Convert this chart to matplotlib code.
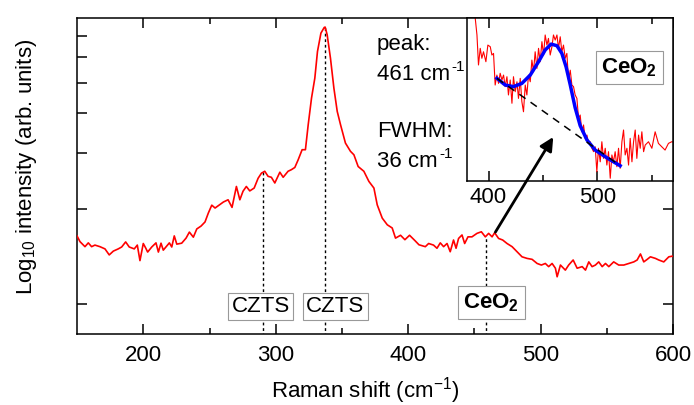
import matplotlib
matplotlib.use('Agg')
import matplotlib.pyplot as plt
import numpy as np

plt.rcParams['font.family'] = 'Liberation Sans'
plt.rcParams['mathtext.fontset'] = 'custom'
plt.rcParams['mathtext.rm'] = 'Liberation Sans'
plt.rcParams['mathtext.it'] = 'Liberation Sans:italic'
plt.rcParams['mathtext.bf'] = 'Liberation Sans:bold'

# main spectrum: Raman shift (cm-1) and log10 of the intensity
shift = [150.0, 152.2, 156.0, 158.5, 161.0, 163.5, 167.3, 171.1, 174.3, 177.4,
         181.1, 183.7, 186.7, 189.4, 193.2, 195.5, 197.5, 200.0, 201.8, 203.3,
         206.4, 209.6, 211.4, 213.4, 215.1, 217.7, 219.7, 221.5, 223.4, 225.3,
         229.0, 232.3, 234.8, 237.8, 240.4, 243.6, 246.6, 249.1, 251.7, 254.2,
         257.2, 260.5, 264.0, 267.0, 270.3, 272.9, 275.3, 277.8, 280.4, 283.7,
         286.7, 289.2, 291.7, 294.2, 296.7, 299.3, 303.1, 305.6, 309.3, 311.8,
         314.4, 316.9, 319.9, 322.4, 324.5, 327.0, 329.5, 331.5, 334.1, 336.6,
         337.3, 338.8, 341.3, 343.9, 346.4, 348.9, 352.6, 356.4, 359.0, 362.2,
         366.5, 370.3, 374.1, 376.6, 380.4, 384.2, 387.9, 390.4, 394.2, 397.5,
         401.0, 405.1, 408.1, 412.9, 415.4, 419.1, 421.7, 424.2, 426.7, 429.3,
         431.7, 434.2, 436.1, 438.0, 440.6, 442.6, 445.1, 448.1, 451.9, 455.2,
         458.2, 460.7, 463.3, 465.2, 468.2, 471.3, 474.6, 478.4, 482.1, 485.9,
         489.7, 493.5, 497.3, 500.5, 503.5, 506.0, 508.6, 511.1, 512.4, 514.9,
         518.6, 521.1, 524.5, 527.5, 531.3, 533.8, 536.3, 538.8, 541.3, 543.8,
         546.4, 548.9, 551.4, 555.1, 558.9, 562.7, 566.5, 570.3, 572.8, 575.3,
         577.8, 580.4, 582.8, 586.6, 589.1, 592.9, 596.7, 599.3, 600.0]
log_int = [3.215, 3.197, 3.181, 3.193, 3.181, 3.186, 3.181, 3.174, 3.155, 3.167,
           3.174, 3.180, 3.196, 3.180, 3.174, 3.186, 3.137, 3.191, 3.177, 3.164,
           3.180, 3.193, 3.164, 3.192, 3.170, 3.183, 3.193, 3.180, 3.215, 3.189,
           3.192, 3.208, 3.227, 3.211, 3.237, 3.246, 3.259, 3.287, 3.312, 3.303,
           3.312, 3.322, 3.329, 3.305, 3.371, 3.329, 3.356, 3.371, 3.357, 3.366,
           3.397, 3.413, 3.419, 3.403, 3.400, 3.382, 3.416, 3.400, 3.419, 3.424,
           3.431, 3.455, 3.487, 3.487, 3.566, 3.650, 3.713, 3.797, 3.855, 3.873,
           3.874, 3.850, 3.776, 3.681, 3.608, 3.566, 3.508, 3.482, 3.471, 3.434,
           3.419, 3.387, 3.366, 3.313, 3.271, 3.250, 3.240, 3.208, 3.217, 3.203,
           3.217, 3.200, 3.187, 3.181, 3.191, 3.186, 3.176, 3.193, 3.181, 3.191,
           3.165, 3.202, 3.176, 3.207, 3.218, 3.191, 3.212, 3.212, 3.223, 3.228,
           3.212, 3.223, 3.212, 3.225, 3.207, 3.202, 3.191, 3.181, 3.165, 3.149,
           3.144, 3.141, 3.128, 3.123, 3.128, 3.118, 3.128, 3.113, 3.086, 3.123,
           3.107, 3.123, 3.139, 3.113, 3.118, 3.107, 3.133, 3.118, 3.123, 3.133,
           3.118, 3.128, 3.118, 3.133, 3.123, 3.123, 3.128, 3.133, 3.139, 3.158,
           3.133, 3.141, 3.149, 3.144, 3.139, 3.133, 3.149, 3.151, 3.150]

# inset: CeO2 region, linear intensity (arb.)
inset_shift = [380.0, 385.0, 387.8, 389.4, 390.8, 392.4, 393.9, 395.4, 397.6, 399.4,
               401.6, 403.1, 404.6, 406.1, 407.7, 409.2, 410.7, 412.3, 413.8, 415.3,
               416.9, 418.3, 419.9, 421.5, 422.9, 424.5, 426.1, 427.5, 429.1, 430.6,
               432.1, 433.7, 435.2, 436.7, 438.3, 439.8, 441.3, 442.8, 444.4, 445.9,
               447.4, 449.0, 450.5, 452.0, 453.6, 455.0, 456.6, 458.2, 459.6, 461.2,
               462.8, 464.2, 465.8, 467.3, 468.8, 470.4, 471.9, 473.4, 475.0, 476.5,
               478.0, 479.5, 481.1, 482.6, 484.1, 485.7, 487.2, 488.7, 490.3, 491.7,
               493.3, 494.9, 496.4, 497.9, 499.4, 500.9, 502.5, 504.0, 505.5, 507.1,
               508.6, 510.1, 511.7, 513.2, 514.7, 516.2, 517.8, 519.3, 520.8, 522.4,
               523.9, 525.4, 527.0, 528.5, 530.0, 531.6, 533.1, 534.6, 536.1, 537.7,
               539.2, 540.7, 542.3, 543.8, 546.8, 549.9, 552.9, 555.9, 559.0, 562.0,
               565.1, 568.1, 569.0]
inset_counts = [120.0, 108.0, 100.0, 89.6, 71.2, 81.4, 75.3, 79.3, 73.2, 83.4,
                82.4, 77.3, 78.3, 58.9, 65.0, 59.9, 66.1, 62.0, 65.0, 57.9,
                64.0, 52.8, 62.0, 47.7, 64.0, 54.8, 60.9, 50.7, 63.0, 48.7,
                42.5, 58.9, 52.8, 65.0, 60.9, 74.2, 67.1, 79.3, 69.1, 81.4,
                73.2, 85.5, 77.3, 89.6, 83.4, 87.5, 77.3, 82.4, 89.6, 86.5,
                89.6, 81.4, 88.5, 79.3, 83.4, 75.3, 78.3, 62.0, 68.0, 58.9,
                57.9, 52.8, 50.7, 38.5, 40.5, 30.2, 34.4, 26.2, 28.2, 23.1,
                24.1, 20.1, 18.0, 21.0, 5.7, 20.1, 11.8, 24.1, 13.9, 20.1,
                9.8, 18.0, 1.7, 16.0, 11.8, 18.0, 8.8, 20.1, 7.8, 24.1,
                31.3, 16.0, 20.1, 9.8, 26.2, 11.8, 24.1, 31.3, 13.9, 28.2,
                20.1, 30.2, 18.0, 22.1, 24.1, 20.1, 30.2, 23.1, 21.0, 19.0,
                23.1, 24.1, 24.0]

fit_shift = [407.7, 415.3, 422.9, 430.6, 438.3, 445.9, 452.0, 457.5, 462.8, 467.3,
             471.2, 475.0, 479.5, 484.1, 490.3, 497.9, 507.1, 514.7, 520.8]
fit_counts = [63.0, 58.9, 57.9, 59.9, 65.0, 73.2, 80.4, 84.0, 83.0, 78.3,
              70.0, 59.0, 45.0, 34.0, 25.2, 19.0, 14.9, 11.8, 9.4]
base_shift = [407.7, 520.8]
base_counts = [63.0, 9.4]

# peak markers: position, top of the dotted line, label, label position
mark_shift = [290.7, 337.2, 458.4]
mark_top = [3.416, 3.874, 3.207]
label_text = ['CZTS', 'CZTS', r'$\mathbf{CeO_2}$']
label_x = [288.6, 344.9, 462.6]
label_y = [2.992, 2.992, 3.005]
label_pad = [0.15, 0.15, 0.25]

tick_counts = [1, 2, 3, 4, 5, 6, 7]

fig = plt.figure(figsize=(6.94, 4.05), dpi=100)
ax = fig.add_axes([0.111, 0.175, 0.859, 0.780])
ax.plot(shift, log_int, color='red', lw=1.2, zorder=3)

for x, top in zip(mark_shift, mark_top):
    ax.plot([x, x], [2.9, top], color='black', lw=1.0, dashes=(2, 2), zorder=2)
for t, x, y, p in zip(label_text, label_x, label_y, label_pad):
    ax.text(x, y, t, ha='center', va='center', fontsize=16, zorder=4,
            bbox=dict(boxstyle='square,pad=%g' % p, fc='white', ec='#999999', lw=0.8))

ax.set_xlim(150, 600)
ax.set_ylim(2.905, 3.902)
ax.set_xticks([200, 300, 400, 500, 600])
ax.set_xticks([250, 350, 450, 550], minor=True)
ax.set_yticks(3 + np.log10(tick_counts))
ax.set_yticklabels([])
ax.tick_params(direction='in', top=True, right=True, length=7, width=1.1,
               labelsize=16, pad=8)
ax.tick_params(which='minor', direction='in', top=True, length=4, width=1.1)
for s in ax.spines.values():
    s.set_linewidth(1.1)
ax.set_xlabel('Raman shift (cm$^{-1}$)', fontsize=16, va='baseline')
ax.set_ylabel('Log$_{10}$ intensity (arb. units)', fontsize=16)
ax.xaxis.set_label_coords(0.484, -0.2)
ax.yaxis.set_label_coords(-0.064, 0.53)

# fit results, with a small "-1" superscript after each "cm"
fig.text(377 / 694, 1 - 50 / 405, 'peak:', fontsize=16, va='baseline')
t1 = fig.text(377 / 694, 1 - 80 / 405, '461 cm', fontsize=16, va='baseline')
fig.text(377 / 694, 1 - 137 / 405, 'FWHM:', fontsize=16, va='baseline')
t2 = fig.text(377 / 694, 1 - 167 / 405, '36 cm', fontsize=16, va='baseline')
for t in (t1, t2):
    ax.annotate('-1', xy=(1, 1), xycoords=t, xytext=(1, 3),
                textcoords='offset points', fontsize=11, va='top', ha='left')

axin = fig.add_axes([0.6725, 0.553, 0.2968, 0.4025])
axin.plot(inset_shift, inset_counts, color='red', lw=0.8)
axin.plot(fit_shift, fit_counts, color='blue', lw=2.5)
axin.plot(base_shift, base_counts, color='black', lw=1.1, dashes=(5, 4))
axin.set_xlim(380, 569)
axin.set_ylim(0, 100)
axin.set_yticks([])
axin.set_xticks([400, 500])
axin.set_xticks([450, 550], minor=True)
axin.tick_params(direction='in', top=True, length=7, width=1.1, labelsize=16, pad=4)
axin.tick_params(which='minor', direction='in', top=True, length=4, width=1.1)
for s in axin.spines.values():
    s.set_linewidth(1.1)
axin.text(0.789, 0.696, r'$\mathbf{CeO_2}$', transform=axin.transAxes,
          ha='center', va='center', fontsize=16,
          bbox=dict(boxstyle='square,pad=0.25', fc='white', ec='#999999', lw=0.8))

axin.annotate('', xy=(459.4, 27.0), xycoords='data',
              xytext=(465.8, 3.227), textcoords=ax.transData,
              arrowprops=dict(arrowstyle='-|>', color='black', lw=2,
                              mutation_scale=20, shrinkA=0, shrinkB=0),
              annotation_clip=False)

fig.savefig('out.png', dpi=100)
